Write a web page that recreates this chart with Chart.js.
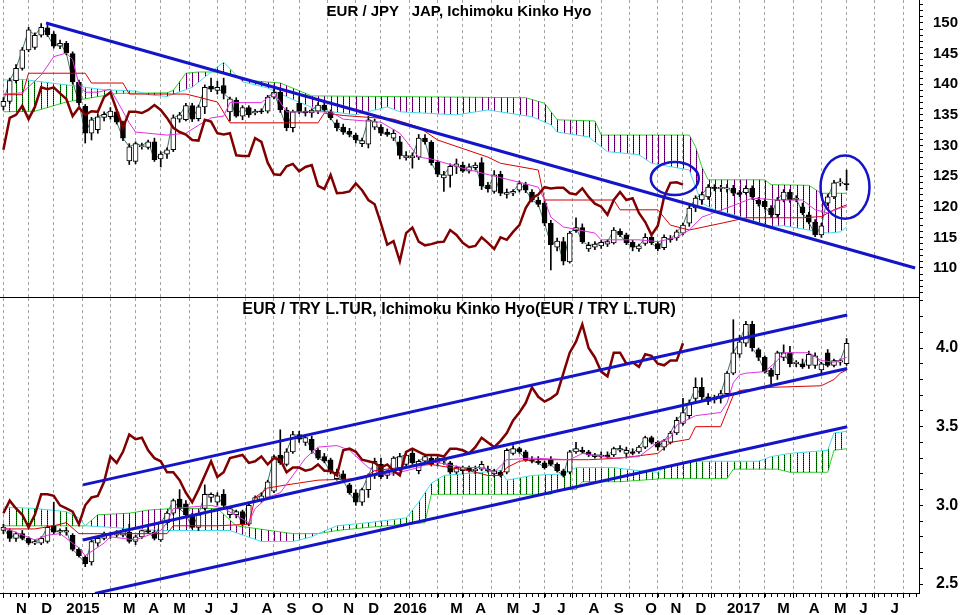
<!DOCTYPE html>
<html>
<head>
<meta charset="utf-8">
<title>EUR/JPY and EUR/TRY - Ichimoku Kinko Hyo</title>
<script src="https://cdn.jsdelivr.net/npm/chart.js@4.4.1/dist/chart.umd.min.js"></script>
<style>
  body { margin: 0; background: #fff; }
  #wrap { position: relative; width: 961px; height: 615px; background: #fff; }
  #topChart { position: absolute; left: 0; top: 0; }
  #botChart { position: absolute; left: 0; top: 298px; }
</style>
</head>
<body>
<div id="wrap">
  <canvas id="topChart" width="961" height="298"></canvas>
  <canvas id="botChart" width="961" height="317"></canvas>
</div>
<script>
// x axis = weekly bar index (bar 0 = week of 24 Oct 2014)
const monthIdx = [2,6,10,15,19,23,27,32,36,41,45,49,54,58,62,67,71,75,80,84,88,93,97,102,106,110,115,119,123,128,132,136,141,145];
const monthLbl = ['N','D','2015','','M','A','M','J','J','A','S','O','N','D','2016','','M','A','M','J','J','A','S','O','N','D','2017','','M','A','M','J','J',''];

// ---- EUR / JPY weekly candles ----
const jpyOpen = [136.4,137.2,140.6,142.6,145.6,146.0,148.0,149.2,148.2,146.2,
  146.7,145.0,140.3,136.4,132.0,132.6,134.6,134.7,135.5,133.7,
  127.5,127.4,129.8,129.7,130.6,127.8,128.6,129.3,134.3,134.2,
  136.5,134.4,136.3,139.7,139.0,139.8,135.5,137.4,134.8,136.2,
  135.3,135.6,135.6,137.9,138.7,135.8,132.9,136.9,135.6,135.3,
  135.6,136.6,135.5,133.7,133.0,132.3,131.7,130.3,130.2,133.0,
  133.0,132.2,131.2,130.6,128.0,128.0,128.1,131.2,130.5,127.3,
  124.7,125.1,126.6,126.8,125.8,126.4,127.2,123.5,122.5,125.3,
  122.0,122.2,122.7,123.6,122.4,121.1,120.6,117.3,113.4,114.3,
  111.0,116.1,116.6,113.1,113.4,113.6,113.9,114.1,116.0,115.4,
  114.2,113.1,114.0,115.0,114.0,113.3,114.8,114.9,115.7,117.3,
  119.8,121.1,121.6,123.1,123.0,122.9,123.0,122.3,122.3,123.0,
  121.1,120.9,119.8,118.7,121.1,122.4,121.2,120.0,118.7,117.5,
  115.4,120.6,121.6,123.9,123.8];
const jpyHigh = [137.8,141.0,143.2,146.0,149.3,148.4,149.9,149.6,148.6,147.2,
  147.0,145.3,140.7,136.7,134.6,135.2,135.5,136.2,135.9,134.0,
  130.3,130.6,130.4,130.9,131.2,129.0,129.6,135.0,135.4,136.9,
  136.9,136.6,139.9,141.0,140.5,141.0,137.9,137.8,136.5,136.5,
  135.9,136.0,138.2,139.3,139.2,136.2,135.8,138.0,136.2,136.0,
  137.0,137.3,135.8,134.2,133.5,132.8,132.0,131.2,134.8,134.3,
  133.4,132.7,132.6,131.5,129.0,128.8,131.8,131.8,130.8,127.6,
  125.8,127.0,127.8,127.3,127.0,127.2,128.0,124.0,125.9,125.8,
  122.9,122.8,124.2,124.0,122.8,121.6,121.2,117.8,114.9,115.0,
  116.0,118.2,117.2,114.2,114.3,114.5,114.6,116.6,116.4,115.7,
  114.5,113.9,115.6,115.3,114.3,115.4,115.3,116.2,117.3,120.2,
  121.8,122.4,123.6,123.6,123.5,123.6,123.5,122.7,123.4,123.4,
  121.5,121.3,120.2,121.5,122.8,122.8,121.8,120.6,119.1,117.9,
  117.3,122.0,124.3,124.6,126.0];
const jpyLow = [135.8,136.8,140.2,142.3,145.3,145.7,147.7,147.8,145.9,145.8,
  144.8,140.0,136.6,130.4,130.9,132.0,134.0,134.3,133.5,130.8,
  126.9,127.0,129.4,129.4,127.4,126.5,127.9,129.0,133.8,134.0,
  133.9,134.0,135.2,138.8,138.4,137.6,134.0,134.6,134.2,134.6,
  135.0,135.2,135.3,137.6,135.4,132.4,132.2,135.2,134.8,134.6,
  135.2,135.5,134.2,132.4,131.8,131.4,130.4,129.8,129.6,132.6,
  131.6,131.5,130.8,127.8,127.6,126.3,127.7,130.2,126.8,124.9,
  122.5,123.2,125.4,125.6,125.5,126.0,122.8,122.4,122.2,121.8,
  121.4,121.8,122.4,122.3,120.8,120.0,116.9,109.7,112.8,110.5,
  110.8,115.8,114.0,112.7,113.0,113.2,113.5,113.9,115.1,113.8,
  112.8,112.7,113.7,113.8,112.8,113.0,114.2,114.5,115.4,116.8,
  119.2,120.4,121.2,122.6,122.5,122.4,121.8,121.6,122.0,121.2,
  120.1,119.6,118.2,118.3,120.8,120.7,120.8,118.7,117.2,115.1,
  115.0,120.2,121.3,123.4,122.7];
const jpyClose = [137.2,140.6,142.6,145.6,148.9,148.0,149.3,148.1,146.2,146.7,
  145.1,140.4,137.0,132.0,134.2,134.7,135.1,135.6,133.8,131.2,
  129.8,130.3,130.0,130.6,127.7,128.6,129.3,134.5,135.0,136.5,
  134.3,136.3,139.5,139.2,139.5,138.5,137.6,134.8,136.2,135.0,
  135.6,135.5,137.9,138.7,135.8,132.9,135.5,135.5,135.3,135.8,
  136.6,135.8,134.5,132.9,132.2,131.8,130.9,130.8,134.2,133.9,
  132.0,131.8,132.0,128.4,128.3,128.3,131.2,130.6,127.2,125.3,
  125.2,126.6,127.0,125.8,126.5,126.8,123.4,122.9,125.2,122.2,
  122.3,122.5,123.8,122.7,121.1,120.4,117.3,113.8,114.4,111.1,
  115.7,116.6,114.3,113.7,113.9,114.2,114.3,116.2,115.4,114.1,
  113.4,113.6,115.0,114.1,113.1,115.0,114.6,115.9,117.0,119.8,
  121.4,122.0,123.2,123.0,123.1,123.1,122.2,122.0,123.0,121.6,
  120.5,120.0,118.7,121.1,122.4,121.1,121.4,119.0,117.5,115.4,
  116.9,121.6,123.9,124.0,123.6];
// EUR / JPY indicator lines: [bar index, value]
const jpyTenkan = [[0,138.4],[3,138.6],[6,141.5],[8,144.5],[10,145.1],[11,144.0],[12,140.0],[13,138.7],[15,138.7],[17,139.2],
  [18,137.4],[20,133.7],[21,132.2],[26,131.7],[29,132.0],[31,133.3],[33,134.5],[35,134.8],[36,137.0],[41,137.0],
  [43,138.6],[45,135.5],[52,135.5],[54,134.3],[60,133.8],[63,132.0],[66,128.1],[68,127.8],[73,126.3],[78,125.0],
  [82,124.0],[85,123.2],[86,121.1],[87,118.3],[89,116.7],[94,115.7],[95,114.6],[101,114.6],[104,114.3],[107,115.0],
  [109,116.2],[111,118.3],[115,119.8],[119,121.4],[123,121.1],[127,121.1],[129,119.5],[131,119.0],[133,119.8],[134,120.0]];
const jpyKijun = [[0,138.3],[3,138.3],[4,141.8],[13,141.8],[14,140.2],[19,140.2],[20,138.4],[29,138.4],[31,137.9],[34,137.1],
  [36,133.7],[50,133.7],[51,135.3],[54,134.9],[62,134.3],[66,133.0],[69,130.9],[77,128.1],[79,127.1],[85,126.0],
  [86,121.1],[97,121.1],[98,119.5],[104,119.5],[106,117.0],[109,116.2],[115,117.5],[118,118.2],[127,118.2],[130,118.4],
  [132,119.5],[134,120.3]];
const jpySpanA = [[0,140.7],[3,140.8],[6,140.4],[10,139.9],[16,139.1],[21,138.9],[23,138.3],[26,138.0],[30,139.5],[33,142.0],
  [35,143.6],[37,141.5],[38,140.4],[42,139.4],[46,137.5],[50,135.8],[56,135.0],[61,136.3],[63,135.5],[72,135.0],
  [77,135.8],[84,134.7],[87,133.4],[88,132.2],[93,131.4],[96,129.0],[101,128.5],[103,127.1],[109,126.0],[110,123.2],
  [111,120.6],[113,119.5],[116,118.7],[122,116.8],[124,116.9],[128,116.2],[131,115.7],[133,115.9],[134,116.7]];
const jpySpanB = [[0,135.5],[5,135.6],[10,137.1],[18,138.5],[26,138.6],[27,139.0],[29,141.8],[31,142.0],[35,142.0],[38,140.7],
  [44,140.2],[49,138.1],[83,137.8],[86,136.9],[88,134.2],[94,134.0],[95,131.7],[109,131.7],[110,129.8],[111,126.5],
  [112,124.4],[121,124.4],[122,123.6],[128,123.5],[130,122.2],[134,122.2]];
const jpyTrend = [[6.77,150.0],[144.9,110.0]];
const jpyCircles = [[106.7,124.6,3.81,2.7],[133.75,123.2,3.89,5.15]]; // [bar, value, half width in bars, half height]

// ---- EUR / TRY weekly candles ----
const tryOpen = [2.84,2.84,2.79,2.82,2.79,2.76,2.76,2.77,2.87,2.83,
  2.83,2.81,2.72,2.67,2.64,2.76,2.79,2.81,2.81,2.81,
  2.83,2.77,2.80,2.84,2.83,2.78,2.89,2.95,3.04,3.01,
  2.94,2.86,2.98,3.05,3.02,3.07,2.94,2.94,2.96,2.88,
  3.03,3.03,3.05,3.09,3.32,3.26,3.34,3.45,3.40,3.42,
  3.35,3.31,3.29,3.17,3.20,3.13,3.08,3.02,3.10,3.19,
  3.26,3.19,3.21,3.24,3.26,3.33,3.22,3.28,3.30,3.27,
  3.28,3.27,3.21,3.22,3.24,3.22,3.23,3.23,3.20,3.21,
  3.21,3.33,3.36,3.34,3.29,3.28,3.27,3.29,3.26,3.22,
  3.21,3.34,3.35,3.34,3.31,3.31,3.32,3.32,3.35,3.33,
  3.34,3.34,3.37,3.43,3.40,3.37,3.40,3.46,3.52,3.57,
  3.68,3.75,3.69,3.67,3.68,3.71,3.84,3.96,4.03,4.15,
  3.99,3.94,3.86,3.83,3.94,3.97,3.90,3.90,3.89,3.89,
  3.86,3.97,3.89,3.91,3.90];
const tryHigh = [2.88,2.85,2.83,2.84,2.80,2.78,2.80,2.87,3.02,2.85,
  2.86,2.82,2.73,2.68,2.78,2.80,2.83,2.83,2.84,2.85,
  2.88,2.81,2.84,2.86,2.84,2.90,2.96,3.04,3.10,3.03,
  2.95,2.95,3.13,3.08,3.08,3.10,2.99,2.97,2.97,3.01,
  3.06,3.08,3.16,3.32,3.48,3.36,3.47,3.47,3.45,3.44,
  3.36,3.33,3.30,3.23,3.22,3.14,3.10,3.11,3.20,3.30,
  3.30,3.22,3.31,3.33,3.34,3.36,3.29,3.32,3.31,3.31,
  3.30,3.28,3.25,3.25,3.25,3.25,3.28,3.25,3.23,3.22,
  3.36,3.38,3.37,3.35,3.31,3.31,3.28,3.31,3.27,3.23,
  3.35,3.40,3.37,3.35,3.33,3.34,3.34,3.37,3.38,3.37,
  3.36,3.38,3.44,3.44,3.41,3.42,3.47,3.56,3.68,3.67,
  3.81,3.81,3.71,3.70,3.73,3.85,4.18,4.08,4.17,4.17,
  4.00,3.95,3.87,3.98,4.02,4.01,3.92,3.93,3.98,3.97,
  3.91,3.99,3.93,3.93,4.06];
const tryLow = [2.82,2.77,2.77,2.78,2.75,2.75,2.75,2.76,2.82,2.81,
  2.81,2.71,2.67,2.61,2.62,2.74,2.78,2.79,2.80,2.80,
  2.76,2.75,2.79,2.82,2.78,2.77,2.88,2.94,2.97,2.93,
  2.85,2.84,2.97,3.02,3.00,2.99,2.92,2.92,2.87,2.87,
  3.02,3.02,3.04,3.08,3.26,3.25,3.33,3.40,3.38,3.33,
  3.29,3.27,3.20,3.16,3.15,3.07,3.00,3.00,3.05,3.17,
  3.17,3.17,3.19,3.22,3.24,3.26,3.20,3.27,3.25,3.25,
  3.26,3.20,3.20,3.20,3.21,3.20,3.22,3.21,3.18,3.18,
  3.20,3.32,3.33,3.28,3.27,3.26,3.23,3.25,3.21,3.18,
  3.20,3.33,3.33,3.31,3.30,3.30,3.30,3.31,3.34,3.30,
  3.32,3.33,3.36,3.39,3.35,3.35,3.39,3.45,3.51,3.55,
  3.66,3.66,3.64,3.65,3.65,3.70,3.83,3.94,4.01,3.98,
  3.92,3.84,3.77,3.80,3.92,3.88,3.88,3.87,3.87,3.87,
  3.84,3.88,3.88,3.89,3.89];
const tryClose = [2.86,2.79,2.82,2.79,2.76,2.77,2.79,2.86,2.83,2.84,
  2.84,2.72,2.68,2.63,2.77,2.79,2.82,2.82,2.83,2.84,
  2.77,2.80,2.84,2.83,2.79,2.89,2.95,3.03,2.98,2.94,
  2.86,2.94,3.07,3.07,3.06,3.00,2.98,2.96,2.88,3.00,
  3.05,3.06,3.15,3.31,3.27,3.34,3.45,3.42,3.43,3.35,
  3.30,3.28,3.21,3.21,3.16,3.08,3.02,3.10,3.19,3.28,
  3.18,3.21,3.30,3.31,3.32,3.27,3.28,3.31,3.26,3.30,
  3.29,3.21,3.24,3.24,3.22,3.23,3.26,3.22,3.22,3.19,
  3.35,3.36,3.34,3.29,3.28,3.27,3.24,3.26,3.22,3.19,
  3.34,3.36,3.34,3.32,3.32,3.32,3.31,3.36,3.36,3.35,
  3.33,3.37,3.43,3.40,3.37,3.41,3.46,3.54,3.59,3.65,
  3.75,3.69,3.66,3.68,3.71,3.84,3.97,4.04,4.15,4.00,
  3.94,3.85,3.82,3.97,3.97,3.90,3.91,3.88,3.96,3.95,
  3.90,3.89,3.92,3.92,4.03];
const tryTenkan = [[0,2.86],[5,2.78],[7,2.81],[9,2.82],[12,2.73],[13,2.68],[16,2.76],[17,2.80],[21,2.78],[25,2.84],
  [26,2.89],[27,2.98],[33,3.00],[35,2.98],[39,2.89],[40,2.98],[42,3.05],[44,3.08],[46,3.19],[48,3.30],
  [50,3.37],[53,3.38],[55,3.35],[58,3.24],[60,3.20],[62,3.20],[66,3.24],[68,3.28],[73,3.24],[76,3.24],
  [78,3.21],[80,3.29],[84,3.30],[90,3.29],[92,3.33],[97,3.30],[101,3.31],[104,3.40],[106,3.43],[107,3.51],
  [110,3.57],[114,3.59],[115,3.65],[116,3.78],[117,3.83],[118,3.84],[121,3.85],[123,3.92],[124,3.97],[128,3.97],
  [130,3.92],[132,3.91],[134,3.94]];
const tryKijun = [[0,2.85],[5,2.85],[8,2.87],[10,2.89],[12,2.82],[26,2.82],[27,2.87],[34,2.87],[39,2.88],[40,3.05],
  [42,3.11],[45,3.13],[50,3.16],[57,3.17],[59,3.22],[63,3.24],[68,3.26],[71,3.24],[74,3.22],[77,3.19],
  [79,3.19],[80,3.24],[82,3.28],[84,3.29],[93,3.29],[98,3.30],[104,3.33],[106,3.40],[109,3.42],[110,3.50],
  [114,3.50],[116,3.70],[117,3.73],[122,3.75],[130,3.76],[132,3.80],[133,3.84],[134,3.86]];
const trySpanA = [[0,2.99],[5,2.98],[10,2.96],[12,2.92],[13,2.87],[25,2.84],[36,2.84],[41,2.77],[46,2.77],[49,2.80],
  [50,2.82],[53,2.87],[58,2.89],[64,2.92],[66,3.02],[68,3.14],[70,3.19],[73,3.20],[79,3.22],[80,3.16],
  [84,3.19],[89,3.20],[91,3.24],[97,3.24],[101,3.22],[104,3.21],[105,3.24],[109,3.28],[120,3.28],[122,3.31],
  [125,3.33],[131,3.35],[132,3.46],[134,3.47]];
const trySpanB = [[0,2.87],[13,2.87],[15,2.94],[20,2.95],[23,2.97],[27,2.98],[34,2.98],[37,2.87],[46,2.82],[50,2.82],
  [53,2.84],[58,2.86],[67,2.89],[68,3.07],[87,3.07],[88,3.10],[91,3.10],[92,3.15],[98,3.15],[105,3.17],
  [115,3.17],[116,3.23],[123,3.23],[125,3.21],[131,3.21],[132,3.35],[134,3.36]];
const tryTrends = [
  [[12.65,3.13],[134.1,4.21]],
  [[12.65,2.78],[134.1,3.87]],
  [[14.55,2.44],[134.1,3.50]]
];

const FONT = '"Liberation Sans", Arial, Helvetica, sans-serif';
const BLUE = '#1414c8';

// vertical dotted hatch for the cloud, one stripe per week
function hatch(color) {
  const c = document.createElement('canvas');
  c.width = 63; c.height = 2;
  const g = c.getContext('2d');
  for (let k = 0; k < 10; k++) {
    const x = (3 + Math.round(6.292 * k)) % 63;
    g.fillStyle = color; g.fillRect(x, 0, 1, 1);
    g.fillStyle = '#000'; g.fillRect(x, 1, 1, 1);
  }
  return g.createPattern(c, 'repeat');
}

const pts = arr => arr.map(([x, y]) => ({x, y}));

const titlePlugin = {
  id: 'panelTitle',
  afterDraw(chart, args, o) {
    const ctx = chart.ctx;
    ctx.save();
    ctx.font = 'bold ' + o.size + 'px ' + FONT;
    ctx.fillStyle = '#000';
    ctx.textAlign = 'center';
    ctx.fillText(o.text, o.x, o.y);
    ctx.restore();
  }
};

const ellipsePlugin = {
  id: 'ellipses',
  afterDatasetsDraw(chart, args, o) {
    if (!o.items) return;
    const {ctx, scales: {x, y}} = chart;
    ctx.save();
    ctx.strokeStyle = BLUE;
    ctx.lineWidth = 2.5;
    o.items.forEach(([cx, cy, rx, ry]) => {
      const px = x.getPixelForValue(cx), py = y.getPixelForValue(cy);
      const rpx = Math.abs(x.getPixelForValue(cx + rx) - px);
      const rpy = Math.abs(y.getPixelForValue(cy + ry) - py);
      ctx.beginPath();
      ctx.ellipse(px, py, rpx, rpy, 0, 0, Math.PI * 2);
      ctx.stroke();
    });
    ctx.restore();
  }
};

const weekTicks = {
  id: 'weekTicks',
  afterDraw(chart, args, o) {
    if (!o.show) return;
    const {ctx, scales: {x}, chartArea} = chart;
    ctx.save();
    ctx.strokeStyle = '#000';
    ctx.lineWidth = 1;
    ctx.beginPath();
    for (let i = 0; i <= 145; i++) {
      const px = Math.round(x.getPixelForValue(i)) + 0.5;
      ctx.moveTo(px, chartArea.bottom);
      ctx.lineTo(px, chartArea.bottom + 4);
    }
    ctx.stroke();
    ctx.restore();
  }
};

function makePanel(id, p) {
  const ds = [];
  p.trends.forEach(t => ds.push({type: 'line', label: 'Trend', data: pts(t), borderColor: BLUE, borderWidth: 3, pointRadius: 0, order: 0}));
  ds.push({type: 'line', label: 'Chikou', data: p.c.slice(26).map((v, k) => ({x: k, y: v})),
    borderColor: '#800000', borderWidth: 2.5, pointRadius: 0, order: 1});
  ds.push({type: 'line', label: 'Tenkan', data: pts(p.tenkan), borderColor: '#e030e0', borderWidth: 1, pointRadius: 0, order: 2});
  ds.push({type: 'line', label: 'Kijun', data: pts(p.kijun), borderColor: '#d80000', borderWidth: 1, pointRadius: 0, order: 3});
  ds.push({type: 'bar', label: 'Body', data: p.c.map((v, i) => ({x: i, y: [Math.min(p.o[i], v), Math.max(p.o[i], v)]})),
    backgroundColor: p.c.map((v, i) => v >= p.o[i] ? '#fff' : '#000'),
    borderColor: '#000', borderWidth: 1, borderSkipped: false, barThickness: 5, minBarLength: 1, grouped: false, order: 4});
  ds.push({type: 'bar', label: 'Wick', data: p.c.map((v, i) => ({x: i, y: [p.l[i], p.h[i]]})),
    backgroundColor: '#000', borderWidth: 0, barThickness: 1, grouped: false, order: 5});
  ds.push({type: 'line', label: 'Close', data: p.c.map((v, i) => ({x: i, y: v})), borderColor: '#3c7868', borderWidth: 1, pointRadius: 0, order: 6});
  ds.push({type: 'line', label: 'Senkou A', data: pts(p.spanA), borderColor: '#48dcea', borderWidth: 1, pointRadius: 0, order: 7,
    fill: {target: '+1', above: hatch('#009000'), below: hatch('#8a008a')}});
  ds.push({type: 'line', label: 'Senkou B', data: pts(p.spanB), borderColor: '#34d034', borderWidth: 1, pointRadius: 0, order: 8});

  return new Chart(document.getElementById(id), {
    type: 'bar',
    data: {datasets: ds},
    options: {
      responsive: false,
      animation: false,
      devicePixelRatio: 1,
      events: [],
      layout: {padding: 0},
      plugins: {
        legend: {display: false},
        tooltip: {enabled: false},
        panelTitle: p.title,
        ellipses: {items: p.circles},
        weekTicks: {show: p.showX}
      },
      scales: {
        x: {
          type: 'linear', min: -0.544, max: 145.51, offset: false,
          afterBuildTicks: s => { s.ticks = monthIdx.map(v => ({value: v})); },
          afterFit: s => { s.height = p.showX ? 22 : 1; s.paddingLeft = 0; s.paddingRight = 0; },
          grid: {color: '#a4a4a4', lineWidth: 1, drawTicks: p.showX, tickLength: 5, tickColor: '#000'},
          border: {display: true, color: '#000', width: 1, dash: [3, 3]},
          ticks: {display: p.showX, autoSkip: false, maxRotation: 0, minRotation: 0, align: 'start', padding: 2,
            color: '#000', font: {family: FONT, size: 15, weight: 'bold'}, callback: (v, i) => monthLbl[i]}
        },
        y: {
          position: 'right', min: p.yMin, max: p.yMax,
          afterBuildTicks: s => { s.ticks = p.yTicks.map(v => ({value: v})); },
          afterFit: s => { s.width = 42; s.paddingTop = 0; s.paddingBottom = 0; },
          grid: {drawOnChartArea: false, drawTicks: true, tickLength: 4, tickColor: '#000'},
          border: {display: true, color: '#000', width: 1},
          ticks: {autoSkip: false, padding: p.yPad, color: '#000', font: {family: FONT, size: p.yFont, weight: 'bold'},
            callback: p.yLabel}
        }
      }
    },
    plugins: [titlePlugin, ellipsePlugin, weekTicks]
  });
}

const jpyTicks = [];
for (let v = 106; v <= 153; v++) jpyTicks.push(v);
const tryTicks = [];
for (let k = 25; k <= 43; k++) tryTicks.push(k / 10);

makePanel('topChart', {
  o: jpyOpen, h: jpyHigh, l: jpyLow, c: jpyClose,
  tenkan: jpyTenkan, kijun: jpyKijun, spanA: jpySpanA, spanB: jpySpanB,
  trends: [jpyTrend], circles: jpyCircles, showX: false,
  yMin: 105.265, yMax: 153.755, yTicks: jpyTicks, yFont: 15, yPad: 10,
  yLabel: v => (v % 5 === 0 ? String(v) : ''),
  title: {text: 'EUR / JPY   JAP, Ichimoku Kinko Hyo', x: 459, y: 16, size: 15}
});

makePanel('botChart', {
  o: tryOpen, h: tryHigh, l: tryLow, c: tryClose,
  tenkan: tryTenkan, kijun: tryKijun, spanA: trySpanA, spanB: trySpanB,
  trends: tryTrends, circles: null, showX: true,
  yMin: 2.4428, yMax: 4.3178, yTicks: tryTicks, yFont: 16, yPad: 13,
  yLabel: v => (Math.round(v * 10) % 5 === 0 ? v.toFixed(1) : ''),
  title: {text: 'EUR / TRY L.TUR, Ichimoku Kinko Hyo(EUR / TRY L.TUR)', x: 459, y: 16, size: 16}
});
</script>
</body>
</html>
